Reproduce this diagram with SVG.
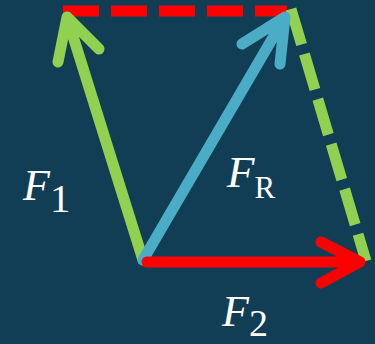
<svg xmlns="http://www.w3.org/2000/svg" width="375" height="344" viewBox="0 0 375 344">
<style>
.v{fill:none;stroke-width:11;stroke-linecap:round;stroke-linejoin:round}
.d{fill:none;stroke-width:11;stroke-linecap:butt}
.lbl{font-family:"Liberation Serif","Times New Roman",serif;fill:#ffffff}
.it{font-style:italic}
</style>
<rect width="375" height="344" fill="#123e55"/>
<g id="connectors">
<line class="d" x1="63" y1="11" x2="287" y2="11" stroke="#ff0000" stroke-dasharray="36 12"/>
<line class="d" x1="291" y1="9" x2="366" y2="261" stroke="#92d050" stroke-dasharray="37 10"/>
</g>
<g id="F1">
<path class="v" stroke="#92d050" d="M143 260 L67 17 M58 62 L67 17 L99 49"/>
</g>
<g id="FR">
<path class="v" stroke="#4bacc6" d="M143 260 L285 17 M242 44 L285 17 L280 64"/>
</g>
<g id="F2">
<path class="v" stroke="#ff0000" d="M147 262 L360 262 M321 242 L360 262 L321 283"/>
</g>
<g id="labels">
<text class="lbl" x="23" y="200"><tspan class="it" font-size="44">F</tspan><tspan font-size="41" y="212">1</tspan></text>
<text class="lbl" x="227" y="187"><tspan class="it" font-size="45">F</tspan><tspan font-size="31" y="198">R</tspan></text>
<text class="lbl" x="222" y="326"><tspan class="it" font-size="44">F</tspan><tspan font-size="38" y="336">2</tspan></text>
</g>
</svg>
